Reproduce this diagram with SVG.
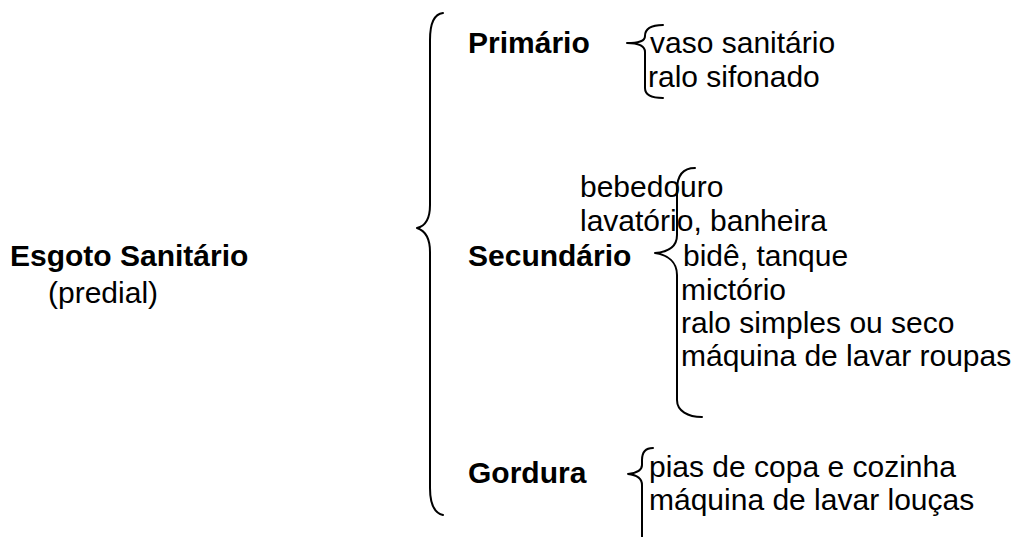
<svg xmlns="http://www.w3.org/2000/svg" width="1031" height="537" viewBox="0 0 1031 537">
<style>
text{font-family:"Liberation Sans",Arial,sans-serif;font-size:30px;fill:#000}
.b{font-weight:bold}
.br{fill:none;stroke:#000;stroke-width:2;stroke-linecap:round;stroke-linejoin:round}
</style>
<rect width="1031" height="537" fill="#fff"/>
<g id="root">
<text class="b" x="10" y="266">Esgoto Sanitário</text>
<text x="48" y="303">(predial)</text>
</g>
<g id="primario">
<text class="b" x="468" y="53">Primário</text>
<text x="650" y="53">vaso sanitário</text>
<text x="648" y="87">ralo sifonado</text>
</g>
<g id="secundario">
<text class="b" x="468" y="266">Secundário</text>
<text x="580" y="197">bebedouro</text>
<text x="580" y="231">lavatório, banheira</text>
<text x="683" y="266">bidê, tanque</text>
<text x="681" y="300">mictório</text>
<text x="681" y="333">ralo simples ou seco</text>
<text x="681" y="366">máquina de lavar roupas</text>
</g>
<g id="gordura">
<text class="b" x="468" y="483">Gordura</text>
<text x="649" y="477">pias de copa e cozinha</text>
<text x="649" y="510">máquina de lavar louças</text>
</g>
<g id="connectors">
<path class="br" d="M443,13 C434,14 430,24 430,40 L430,205 C430,218 426,226 417,228 C426,231 430,240 430,252 L430,488 C430,504 434,513 443,515"/>
<path class="br" d="M663,25 C651,25 645,29 645,36 C645,41 640,43 627,43 C640,43 645,46 645,52 L645,88 C645,95 651,98 663,98"/>
<path class="br" d="M695,168 C683,168 677,175 677,190 L677,235 C677,247 668,252 655,253 C668,255 677,262 677,275 L677,400 C677,411 688,417 702,417"/>
<path class="br" d="M653,448 C645,448 642,453 642,460 L642,465 C642,470 637,473 628,474 C637,475 642,478 642,485 L642,540"/>
</g>
</svg>
